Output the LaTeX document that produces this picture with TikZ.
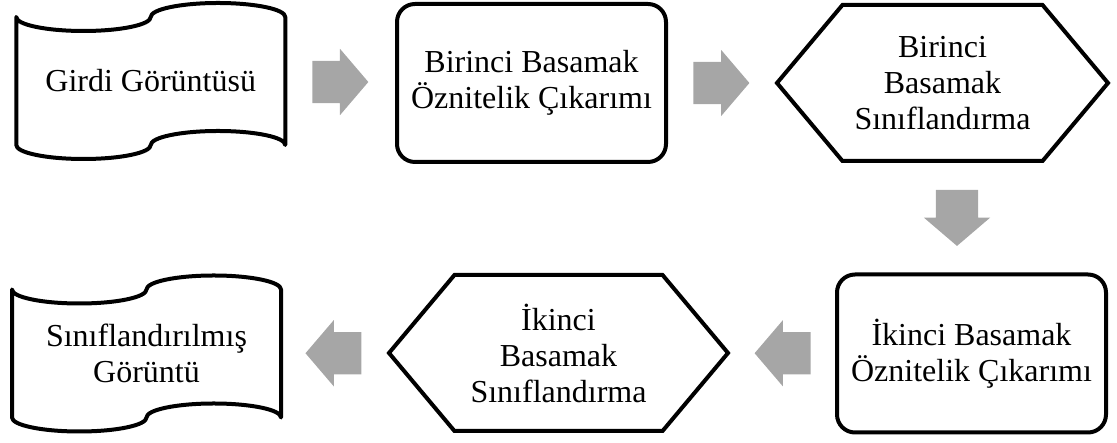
\documentclass[tikz,border=0pt]{standalone}
\usepackage{fontspec}
\setmainfont{Liberation Serif}
\usepackage{tikz}
\usetikzlibrary{shapes.symbols,shapes.arrows,calc,positioning}
\definecolor{arrgray}{RGB}{166,166,166}
\tikzset{
    %Define style for text
    lbl/.style={
      font=\fontsize{32}{36}\selectfont,
      align=center},
    %Define style for rounded boxes
    stagebox/.style={
      lbl,
      rectangle,
      rounded corners=18pt,
      draw=black, line width=4pt,
      minimum width=269pt,
      minimum height=158pt},
    %Define style for hexagons
    hexbox/.style={
      lbl,
      signal,
      signal to=east and west,
      signal pointer angle=100,
      draw=black, line width=4pt,
      minimum height=156pt},
    %Define style for the tape (drawn later)
    tapebox/.style={
      lbl,
      rectangle,
      outer sep=0pt,
      minimum width=269pt,
      minimum height=128pt},
    tapeline/.style={
      draw=black, line width=4pt,
      line join=round},
    % Define block arrow style, placed by its tail
    blockarr/.style={
      single arrow,
      anchor=tail,
      fill=arrgray,
      draw=none,
      inner xsep=0pt,
      inner ysep=21pt,
      minimum width=66pt,
      minimum height=56pt,
      single arrow head extend=12pt,
      single arrow tip angle=99}
}
% wavy border round a tape node
\newcommand{\tapeedge}[1]{%
  \draw[tapeline] (#1.north west)
    arc[start angle=180, end angle=360, x radius=67.25pt, y radius=14pt]
    arc[start angle=180, end angle=0, x radius=67.25pt, y radius=14pt]
    -- (#1.south east)
    arc[start angle=0, end angle=180, x radius=67.25pt, y radius=14pt]
    arc[start angle=0, end angle=-180, x radius=67.25pt, y radius=14pt]
    -- cycle;}

\begin{document}
\begin{tikzpicture}[x=1pt, y=1pt]
    \useasboundingbox (0,0) rectangle (1117,443);

    % first row
    \node[tapebox] (input) at (150.75,362) {Girdi Görüntüsü};
    \tapeedge{input}
    \node[stagebox] (feat1) at (531.5,360) {Birinci Basamak\\Öznitelik Çıkarımı};
    \node[hexbox, minimum width=331pt] (cls1) at (942.5,360)
      {Birinci\\Basamak\\Sınıflandırma};

    % second row
    \node[stagebox] (feat2) at (971.5,89.5) {İkinci Basamak\\Öznitelik Çıkarımı};
    \node[hexbox, minimum width=339pt] (cls2) at (558.5,90)
      {İkinci\\Basamak\\Sınıflandırma};
    \node[tapebox] (output) at (146.5,89.5) {Sınıflandırılmış\\Görüntü};
    \tapeedge{output}

    % block arrows, centred between the boxes
    \node[blockarr] (a1) at ($(input.east)!0.5!(feat1.west)+(-28,0)$) {};
    \node[blockarr] (a2) at ($(feat1.east)!0.5!(cls1.west)+(-28,0)$) {};
    \node[blockarr, rotate=-90] (a3) at ($(cls1.south)!0.5!(feat2.north)+(0,28)$) {};
    \node[blockarr, rotate=180] (a4) at ($(feat2.west)!0.5!(cls2.east)+(28,0)$) {};
    \node[blockarr, rotate=180] (a5) at ($(cls2.west)!0.5!(output.east)+(28,0)$) {};
\end{tikzpicture}
\end{document}
